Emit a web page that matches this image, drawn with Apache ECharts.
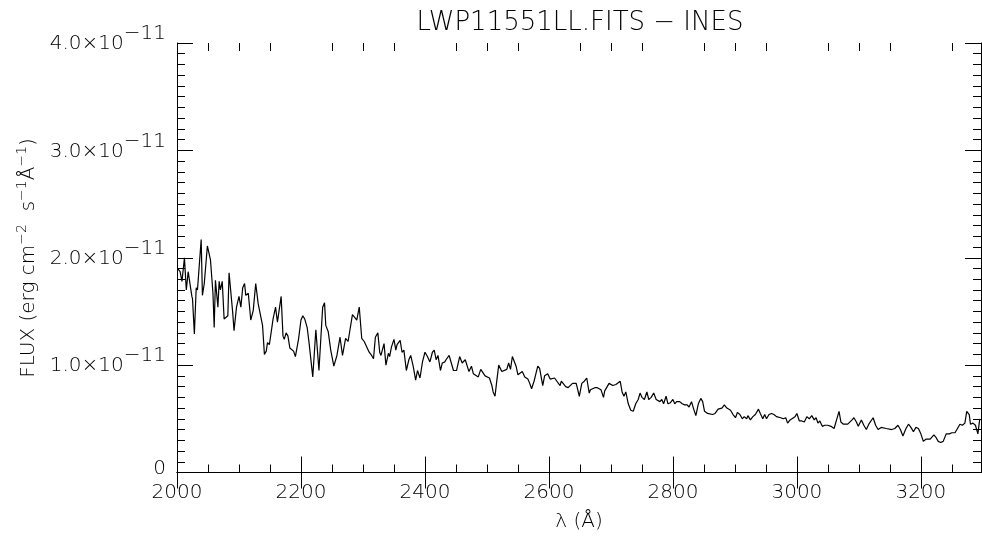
<!DOCTYPE html>
<html>
<head>
<meta charset="utf-8">
<script src="https://cdn.jsdelivr.net/npm/echarts@6/dist/echarts.min.js"></script>
<style>
  html, body { margin: 0; background: #fff; }
  #chart { width: 982px; height: 538px; }
</style>
</head>
<body>
<div id="chart"></div>
<script>
// wavelength (Angstrom)
const wavelength = [
  2001, 2005, 2008, 2010, 2012, 2015, 2018, 2020, 2024, 2025, 2028, 2031, 2033, 2039, 2041, 2044, 2047, 2049, 2054, 2058,
  2060, 2062, 2066, 2068, 2070, 2073, 2076, 2079, 2082, 2084, 2087, 2090, 2092, 2096, 2100, 2103, 2106, 2109, 2111, 2115,
  2119, 2123, 2127, 2131, 2138, 2141, 2144, 2146, 2149, 2153, 2155, 2159, 2162, 2168, 2171, 2173, 2176, 2179, 2182, 2185,
  2188, 2191, 2196, 2200, 2203, 2206, 2210, 2213, 2219, 2224, 2229, 2235, 2238, 2240, 2244, 2248, 2253, 2258, 2263, 2267,
  2272, 2276, 2283, 2286, 2290, 2294, 2298, 2302, 2310, 2314, 2317, 2320, 2324, 2327, 2329, 2334, 2337, 2341, 2343, 2346,
  2350, 2353, 2355, 2360, 2363, 2366, 2370, 2374, 2377, 2381, 2385, 2388, 2392, 2396, 2400, 2404, 2408, 2412, 2415, 2418,
  2421, 2425, 2428, 2432, 2434, 2439, 2446, 2451, 2456, 2460, 2465, 2471, 2475, 2478, 2486, 2490, 2497, 2504, 2508, 2510,
  2513, 2516, 2519, 2524, 2532, 2535, 2538, 2541, 2547, 2550, 2557, 2561, 2566, 2569, 2572, 2576, 2579, 2582, 2585, 2590,
  2593, 2598, 2602, 2609, 2618, 2620, 2627, 2631, 2638, 2641, 2644, 2649, 2653, 2657, 2661, 2665, 2667, 2674, 2678, 2684,
  2688, 2690, 2697, 2703, 2708, 2715, 2718, 2721, 2724, 2728, 2732, 2736, 2740, 2744, 2747, 2750, 2754, 2758, 2761, 2765,
  2769, 2773, 2776, 2779, 2782, 2785, 2789, 2792, 2796, 2800, 2803, 2806, 2808, 2811, 2815, 2819, 2823, 2826, 2830, 2833,
  2837, 2841, 2845, 2848, 2851, 2853, 2856, 2859, 2864, 2868, 2870, 2873, 2876, 2879, 2883, 2887, 2890, 2893, 2897, 2901,
  2904, 2908, 2912, 2915, 2919, 2921, 2925, 2929, 2933, 2938, 2941, 2945, 2948, 2951, 2955, 2959, 2963, 2967, 2970, 2974,
  2978, 2982, 2985, 2989, 2992, 2997, 3000, 3004, 3008, 3012, 3016, 3020, 3024, 3028, 3031, 3034, 3037, 3041, 3045, 3050,
  3053, 3055, 3060, 3064, 3068, 3071, 3075, 3078, 3082, 3085, 3089, 3092, 3096, 3099, 3104, 3108, 3112, 3116, 3123, 3127,
  3131, 3136, 3139, 3144, 3147, 3153, 3158, 3163, 3167, 3171, 3176, 3180, 3184, 3188, 3192, 3196, 3200, 3204, 3208, 3211,
  3215, 3217, 3221, 3224, 3228, 3232, 3236, 3241, 3246, 3250, 3255, 3259, 3263, 3267, 3271, 3274, 3278, 3280, 3284, 3288,
  3292, 3295
]
// flux, in units of 1e-11 erg cm-2 s-1 A-1
const flux = [
  1.90, 1.87, 1.78, 1.79, 2.00, 1.70, 1.87, 1.88, 1.64, 1.62, 1.29, 1.72, 1.70, 2.17, 1.65, 1.76, 1.75, 2.11, 1.98, 1.67,
  1.35, 1.79, 1.54, 1.78, 1.70, 1.78, 1.43, 1.42, 1.46, 1.86, 1.67, 1.48, 1.32, 1.54, 1.64, 1.54, 1.72, 1.76, 1.65, 1.67,
  1.42, 1.51, 1.76, 1.57, 1.37, 1.10, 1.13, 1.21, 1.19, 1.35, 1.43, 1.54, 1.40, 1.64, 1.27, 1.24, 1.30, 1.27, 1.16, 1.16,
  1.13, 1.08, 1.24, 1.42, 1.46, 1.43, 1.35, 1.21, 0.89, 1.33, 0.95, 1.54, 1.58, 1.37, 1.31, 1.14, 0.99, 1.09, 1.26, 1.09,
  1.25, 1.22, 1.47, 1.45, 1.42, 1.54, 1.25, 1.22, 1.12, 1.09, 1.06, 1.26, 1.30, 1.12, 1.09, 1.20, 1.00, 1.11, 1.08, 1.17,
  1.24, 1.14, 1.19, 1.23, 1.12, 1.14, 0.95, 1.05, 1.09, 0.99, 0.86, 0.95, 0.88, 1.03, 1.12, 1.08, 1.03, 1.12, 1.14, 1.05,
  1.09, 0.95, 1.02, 1.03, 1.05, 1.09, 0.95, 0.95, 1.08, 1.02, 1.05, 0.94, 0.99, 0.92, 0.89, 0.96, 0.90, 0.88, 0.81, 0.75,
  0.71, 0.86, 1.00, 0.94, 0.96, 1.02, 0.96, 1.08, 0.99, 0.91, 0.94, 0.89, 0.87, 0.83, 0.78, 0.85, 0.92, 0.99, 0.97, 0.81,
  0.90, 0.92, 0.87, 0.88, 0.81, 0.85, 0.80, 0.79, 0.83, 0.84, 0.83, 0.71, 0.83, 0.85, 0.88, 0.74, 0.77, 0.79, 0.79, 0.77,
  0.70, 0.76, 0.83, 0.81, 0.82, 0.85, 0.75, 0.71, 0.75, 0.64, 0.58, 0.57, 0.64, 0.68, 0.74, 0.70, 0.68, 0.75, 0.68, 0.70,
  0.74, 0.68, 0.68, 0.66, 0.68, 0.64, 0.71, 0.64, 0.65, 0.68, 0.64, 0.66, 0.65, 0.66, 0.64, 0.63, 0.63, 0.61, 0.66, 0.60,
  0.53, 0.64, 0.69, 0.66, 0.57, 0.57, 0.55, 0.55, 0.54, 0.55, 0.54, 0.59, 0.58, 0.60, 0.63, 0.60, 0.59, 0.58, 0.54, 0.51,
  0.56, 0.54, 0.50, 0.52, 0.50, 0.53, 0.49, 0.52, 0.54, 0.59, 0.55, 0.50, 0.54, 0.50, 0.54, 0.55, 0.54, 0.52, 0.53, 0.51,
  0.50, 0.51, 0.46, 0.49, 0.50, 0.52, 0.55, 0.48, 0.48, 0.47, 0.52, 0.50, 0.53, 0.49, 0.51, 0.46, 0.48, 0.43, 0.44, 0.44,
  0.44, 0.43, 0.41, 0.49, 0.57, 0.47, 0.45, 0.46, 0.45, 0.46, 0.49, 0.51, 0.47, 0.43, 0.49, 0.44, 0.40, 0.45, 0.51, 0.44,
  0.40, 0.42, 0.41, 0.41, 0.40, 0.40, 0.41, 0.44, 0.40, 0.34, 0.41, 0.45, 0.42, 0.38, 0.42, 0.41, 0.36, 0.29, 0.31, 0.30,
  0.31, 0.32, 0.35, 0.33, 0.29, 0.28, 0.29, 0.36, 0.36, 0.37, 0.37, 0.41, 0.45, 0.44, 0.46, 0.57, 0.54, 0.45, 0.46, 0.44,
  0.36, 0.50
]
// ticks
const xMajor = [2000, 2200, 2400, 2600, 2800, 3000, 3200]
const xMinor = [2050, 2100, 2150, 2250, 2300, 2350, 2450, 2500, 2550, 2650, 2700, 2750,
  2850, 2900, 2950, 3050, 3100, 3150, 3250]
const yTicks = [0, 1, 2, 3, 4]

const FONT = "'DejaVu Sans ExtraLight', 'DejaVu Sans'"
const black = '#000'

const chart = echarts.init(document.getElementById('chart'))

const gridBox = { left: 177, right: 1, top: 43, bottom: 65.5 }
const xRange = { min: 2000, max: 3297 }

const txt = (size, extra) =>
  Object.assign({ fontFamily: FONT, fontWeight: 200, fontSize: size, color: black }, extra || {})

const xAxisBase = (grid, pos, values, len, labels) => ({
  type: 'value',
  gridIndex: grid,
  position: pos,
  min: xRange.min,
  max: xRange.max,
  axisLine: { show: grid === 0, lineStyle: { color: black, width: 1 } },
  axisTick: { show: true, inside: true, length: len, customValues: values, lineStyle: { color: black } },
  axisLabel: labels
    ? txt(20, { show: true, customValues: xMajor, formatter: v => String(v), margin: 10 })
    : { show: false },
  splitLine: { show: false }
})

// superscript exponent drawn as a raised rich-text piece
const yLabel = v => (v === 0 ? '{z|0}' : `{m|${v.toFixed(1)}×10}{s|−11}`)

const yAxisBase = (pos, labels) => ({
  type: 'value',
  gridIndex: 0,
  position: pos,
  min: yTicks[0],
  max: yTicks[yTicks.length - 1],
  interval: 1,
  axisLine: { show: true, lineStyle: { color: black, width: 1 } },
  axisTick: { show: true, inside: true, length: 16, lineStyle: { color: black } },
  minorTick: { show: true, splitNumber: 10, length: 8, lineStyle: { color: black } },
  axisLabel: labels
    ? txt(20, {
        show: true,
        formatter: yLabel,
        margin: 11,
        rich: {
          z: txt(20, { verticalAlign: 'bottom', padding: [0, 0, 8, 0] }),
          m: txt(20, { verticalAlign: 'bottom', padding: [0, 0, 8, 0] }),
          s: txt(20, { verticalAlign: 'bottom', padding: [0, 0, 18, 0] })
        }
      })
    : { show: false },
  splitLine: { show: false }
})

const option = {
  backgroundColor: '#fff',
  animation: false,
  grid: [Object.assign({}, gridBox), Object.assign({}, gridBox)],
  xAxis: [
    Object.assign(xAxisBase(0, 'bottom', xMajor, 16, true), {
      name: 'λ (Å)',
      nameLocation: 'middle',
      nameGap: 39,
      nameTextStyle: txt(20)
    }),
    xAxisBase(0, 'top', xMajor, 16, false),
    xAxisBase(1, 'bottom', xMinor, 8, false),
    xAxisBase(1, 'top', xMinor, 8, false)
  ],
  yAxis: [
    yAxisBase('left', true),
    yAxisBase('right', false),
    { type: 'value', gridIndex: 1, min: 0, max: 4, show: false }
  ],
  graphic: [
    {
      type: 'text',
      x: 580,
      y: 23,
      style: {
        text: 'LWP11551LL.FITS − INES',
        fontFamily: FONT,
        fontWeight: 200,
        fontSize: 26,
        fill: black,
        align: 'center',
        verticalAlign: 'middle'
      }
    },
    {
      type: 'text',
      x: 27,
      y: 258,
      rotation: Math.PI / 2,
      style: {
        text: '{a|FLUX (erg cm}{s|−2}{a|  s}{s|−1}{a|Å}{s|−1}{a|)}',
        align: 'center',
        verticalAlign: 'middle',
        rich: {
          a: { fontFamily: FONT, fontWeight: 200, fontSize: 20, fill: black, verticalAlign: 'bottom' },
          s: {
            fontFamily: FONT,
            fontWeight: 200,
            fontSize: 14,
            fill: black,
            verticalAlign: 'bottom',
            padding: [0, 0, 9, 0]
          }
        }
      }
    }
  ],
  series: [
    {
      type: 'line',
      xAxisIndex: 0,
      yAxisIndex: 0,
      data: wavelength.map((w, i) => [w, flux[i]]),
      showSymbol: false,
      symbol: 'none',
      lineStyle: { color: black, width: 1.2 },
      silent: true
    }
  ]
}

chart.setOption(option)
</script>
</body>
</html>
